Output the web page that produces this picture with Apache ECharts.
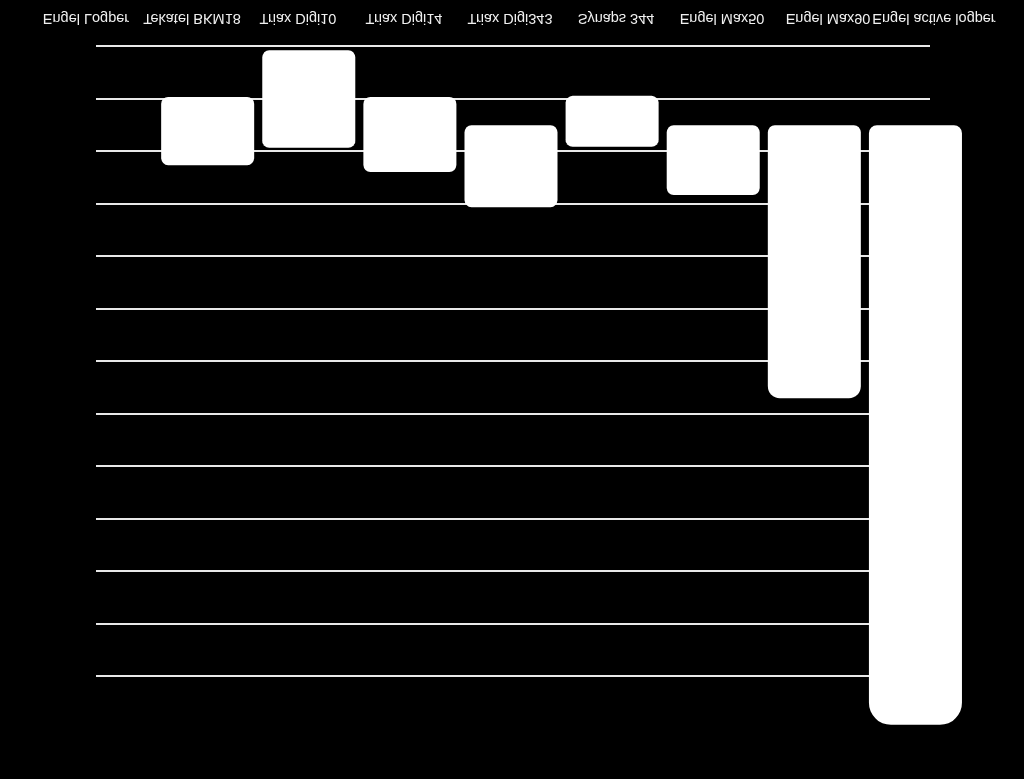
<!DOCTYPE html>
<html>
<head>
<meta charset="utf-8">
<title>Antenna chart</title>
<script src="https://cdn.jsdelivr.net/npm/echarts@6/dist/echarts.min.js"></script>
<style>
  html, body { margin: 0; padding: 0; background: #000; }
  /* the reference is a vertically mirrored picture, so the whole chart is flipped */
  #box { width: 1024px; height: 779px; transform: scaleY(-1); }
</style>
</head>
<body>
<div id="box"></div>
<script>
// categories (antennas)
var categories = [
    'Engel Logper',
    'Tekatel BKM18',
    'Triax Digi10',
    'Triax Digi14',
    'Triax Digi343',
    'Synaps 344',
    'Engel Max50',
    'Engel Max90',
    'Engel active logper'
];
// where each bar starts, in grid-line units
var barStart = ['-', 0.96, 0.07, 0.96, 1.50, 0.94, 1.50, 1.50, 1.50];
// length of each bar, in grid-line units
var barLength = ['-', 1.30, 1.86, 1.43, 1.56, 0.97, 1.33, 5.20, 11.42];
// value axis range (13 grid lines)
var axisMin = 0;
var axisMax = 12;

// rounded ends: the long bars have a deeper cap
function capRadius(i){
    if (i === 8) return [22, 22, 8, 8];
    if (i === 7) return [12, 12, 7, 7];
    return [7, 7, 7, 7];
}

var myChart = echarts.init(document.getElementById('box'));

var option = {
    backgroundColor: '#000',
    animation: false,
    grid: [
        // grid lines
        { left: 96, right: 94, top: 102.5, bottom: 46.5 },
        // bars
        { left: 56, right: 58, top: 102.5, bottom: 46.5 },
        // labels
        { left: 33, right: 37, bottom: 34, height: 10 }
    ],
    xAxis: [
        { gridIndex: 0, type: 'category', data: categories, show: false },
        { gridIndex: 1, type: 'category', data: categories, show: false },
        {
            gridIndex: 2,
            type: 'category',
            data: categories,
            axisLine: { show: false },
            axisTick: { show: false },
            axisLabel: {
                interval: 0,
                margin: 8,
                color: '#f0f0f0',
                fontFamily: 'Liberation Sans',
                fontSize: 14.5
            }
        }
    ],
    yAxis: [
        {
            gridIndex: 0,
            type: 'value',
            min: axisMin,
            max: axisMax,
            interval: 1,
            axisLine: { show: false },
            axisTick: { show: false },
            axisLabel: { show: false },
            splitLine: { show: true, lineStyle: { color: '#e8e8e8', width: 2 } }
        },
        {
            gridIndex: 1,
            type: 'value',
            min: axisMin,
            max: axisMax,
            show: false,
            splitLine: { show: false }
        },
        { gridIndex: 2, type: 'value', show: false, splitLine: { show: false } }
    ],
    series: [
        {
            name: 'start',
            type: 'bar',
            xAxisIndex: 1,
            yAxisIndex: 1,
            stack: 'gain',
            barWidth: '92%',
            clip: false,
            silent: true,
            itemStyle: { color: 'transparent' },
            data: barStart
        },
        {
            name: 'gain',
            type: 'bar',
            xAxisIndex: 1,
            yAxisIndex: 1,
            stack: 'gain',
            barWidth: '92%',
            clip: false,
            data: barLength.map(function(v, i){
                return { value: v, itemStyle: { color: '#ffffff', borderRadius: capRadius(i) } };
            })
        }
    ]
};

myChart.setOption(option);
</script>
</body>
</html>
